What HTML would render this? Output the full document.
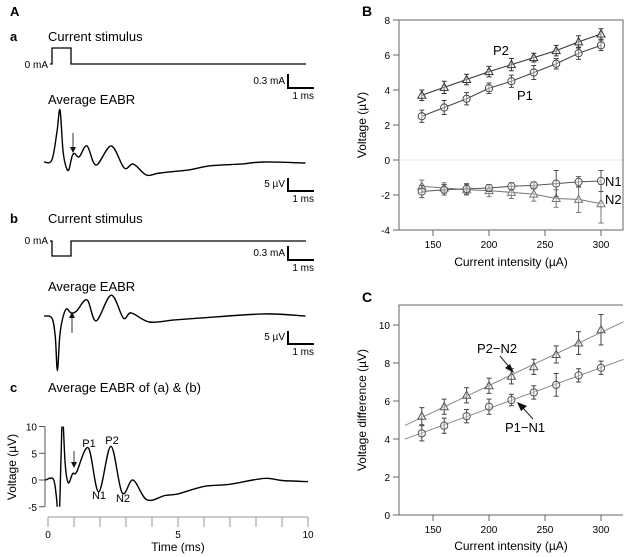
<!DOCTYPE html>
<html><head><meta charset="utf-8">
<style>
html,body{margin:0;padding:0;background:#fff;}
svg{display:block;font-family:"Liberation Sans",Arial,sans-serif;}
</style></head>
<body>
<svg id="fig" width="624" height="557" viewBox="0 0 624 557" xmlns="http://www.w3.org/2000/svg">
  <g id="static" fill="#000">
    <text x="10" y="16" font-size="13" font-weight="bold">A</text>
    <text x="10" y="41" font-size="13" font-weight="bold">a</text>
    <text x="48" y="41" font-size="13">Current stimulus</text>
    <text x="10" y="223" font-size="13" font-weight="bold">b</text>
    <text x="48" y="223" font-size="13">Current stimulus</text>
    <text x="48" y="104" font-size="13">Average EABR</text>
    <text x="48" y="291" font-size="13">Average EABR</text>
    <text x="10" y="392" font-size="13" font-weight="bold">c</text>
    <text x="48" y="392" font-size="13">Average EABR of (a) &amp; (b)</text>
    <text x="362" y="16" font-size="14" font-weight="bold">B</text>
    <text x="362" y="302" font-size="14" font-weight="bold">C</text>
  </g>
</svg>
<script>
var NS='http://www.w3.org/2000/svg';
var svg=document.getElementById('fig');
function mk(tag,attrs,parent){var e=document.createElementNS(NS,tag);for(var k in attrs)e.setAttribute(k,attrs[k]);(parent||svg).appendChild(e);return e;}
function txt(x,y,s,size,anchor){var t=mk('text',{x:x,y:y,'font-size':size,'text-anchor':anchor||'start',fill:'#000'});t.textContent=s;return t;}

// ---------- Data: Panel A traces (time ms, voltage µV) ----------
var traceATimes=[-0.15,0.15,0.35,0.46,0.58,0.7,0.8,0.92,1.02,1.2,1.5,1.85,2.43,2.93,3.28,3.78,4.2,4.67,5.44,6.2,7.4,8.3,9.9];
var traceAValues=[0,0.8,12,20,4,-2,-3,2,3.3,2,6.2,-1.2,6.2,-2.3,-0.8,-5,-4.4,-3.8,-3,-1.5,-0.8,0,-0.4];
var traceBTimes=[-0.15,0.15,0.28,0.36,0.45,0.55,0.7,0.89,1.1,1.5,1.85,2.43,2.9,3.2,3.9,4.86,5.83,8.3,9.9];
var traceBValues=[0,-0.8,-8,-21,-8,-1.5,2.7,1.2,1.9,6.2,-1.9,8,-0.8,1.2,-2.3,-1.5,-0.8,0.8,0];
var traceCTimes=[-0.1,0.2,0.32,0.42,0.5,0.56,0.66,0.78,0.95,1.1,1.55,1.95,2.42,2.85,3.27,3.8,4.5,5,6,7,8.3,9,10];
var traceCValues=[0,0.2,-3,-8,4,12,3,-0.5,1.2,1.5,6,-2.2,6.3,-2.4,0,-3.7,-2.9,-2.6,-1.2,-0.8,0.3,-0.1,-0.3];
var timeTicks=[0,5,10];
var voltTicksC=[10,5,0,-5];

// ---------- Data: Panel B ----------
var currents=[140,160,180,200,220,240,260,280,300];
var p1Vals=[2.5,3.0,3.5,4.1,4.5,5.0,5.5,6.1,6.55];
var p1Err=[0.35,0.4,0.35,0.3,0.35,0.4,0.3,0.35,0.3];
var p2Vals=[3.7,4.15,4.6,5.05,5.45,5.85,6.25,6.75,7.2];
var p2Err=[0.3,0.35,0.3,0.3,0.35,0.25,0.3,0.35,0.3];
var n1Vals=[-1.8,-1.7,-1.65,-1.6,-1.5,-1.45,-1.35,-1.25,-1.2];
var n1Err=[0.35,0.3,0.3,0.2,0.2,0.2,0.75,0.3,0.6];
var n2Vals=[-1.5,-1.6,-1.7,-1.75,-1.85,-1.95,-2.2,-2.25,-2.5];
var n2Err=[0.35,0.3,0.3,0.35,0.35,0.4,0.5,0.75,1.1];
var bYTicks=[8,6,4,2,0,-2,-4];
var xTicks=[150,200,250,300];

// ---------- Data: Panel C ----------
var d2Vals=[5.2,5.7,6.3,6.8,7.3,7.8,8.45,9.05,9.75];
var d2Err=[0.45,0.4,0.4,0.4,0.4,0.4,0.45,0.6,0.8];
var d1Vals=[4.3,4.7,5.2,5.7,6.05,6.45,6.85,7.35,7.75];
var d1Err=[0.4,0.4,0.35,0.4,0.3,0.35,0.6,0.35,0.35];
var cYTicks=[10,8,6,4,2,0];

// ---------- helpers ----------
function smoothPath(pts){
  var d='M'+pts[0][0].toFixed(1)+','+pts[0][1].toFixed(1);
  for(var i=0;i<pts.length-1;i++){
    var p0=pts[i>0?i-1:i],p1=pts[i],p2=pts[i+1],p3=pts[i+2<pts.length?i+2:i+1];
    var c1x=p1[0]+(p2[0]-p0[0])/6,c1y=p1[1]+(p2[1]-p0[1])/6;
    var c2x=p2[0]-(p3[0]-p1[0])/6,c2y=p2[1]-(p3[1]-p1[1])/6;
    d+=' C'+c1x.toFixed(1)+','+c1y.toFixed(1)+' '+c2x.toFixed(1)+','+c2y.toFixed(1)+' '+p2[0].toFixed(1)+','+p2[1].toFixed(1);
  }
  return d;
}
function xT(t){return 48+t*26;}
function scaleBar(x,yTop,yBot,label1,label2,name){
  var g=mk('g',{});
  
  
  mk('path',{d:'M'+x+','+yTop+' L'+x+','+yBot+' L'+(x+26)+','+yBot,fill:'none',stroke:'#000','stroke-width':2},g);
  var t1=txt(x-3,yBot-4,label1,10,'end');g.appendChild(t1);
  var t2=txt(x+26,yBot+11,label2,10,'end');g.appendChild(t2);
}

// ---------- Panel A: stimuli ----------
var s1=mk('path',{d:'M50,64 L52,64 L52,48 L71,48 L71,64 L306,64',fill:'none',stroke:'#000','stroke-width':1.3});


var z1=txt(48,68,'0 mA',10,'end');


scaleBar(288,74,88,'0.3 mA','1 ms','scale-bar-stimulus-a');
var s2=mk('path',{d:'M50,241 L52,241 L52,256 L71,256 L71,241 L306,241',fill:'none',stroke:'#000','stroke-width':1.3});


var z2=txt(48,244,'0 mA',10,'end');


scaleBar(288,246,260,'0.3 mA','1 ms','scale-bar-stimulus-b');

// ---------- Panel A: EABR traces ----------
function drawTrace(times,vals,base,pxPerUV){
  var pts=[];for(var i=0;i<times.length;i++)pts.push([xT(times[i]),base-vals[i]*pxPerUV]);
  var p=mk('path',{d:smoothPath(pts),fill:'none',stroke:'#000','stroke-width':1.4,'stroke-linejoin':'round'});
  return p;
}
var ta=drawTrace(traceATimes,traceAValues,162,2.6);


scaleBar(288,178,191,'5 \u00b5V','1 ms','scale-bar-eabr-a');
var tb=drawTrace(traceBTimes,traceBValues,316,2.6);


scaleBar(288,331,344,'5 \u00b5V','1 ms','scale-bar-eabr-b');
function arrow(x,y1,y2,name){
  var g=mk('g',{});
  
  
  var dir=y2>y1?1:-1;
  mk('line',{x1:x,y1:y1,x2:x,y2:y2-dir*5,stroke:'#333','stroke-width':1},g);
  mk('path',{d:'M'+(x-3)+','+(y2-dir*6)+' L'+(x+3)+','+(y2-dir*6)+' L'+x+','+y2+' Z',fill:'#111'},g);
}
arrow(73,133,153,'arrow-a');
arrow(72,333,312,'arrow-b');

// ---------- Panel A c: axes ----------
var cY0=480,cPx=5.35;
function cy(v){return cY0-v*cPx;}
var clip=mk('clipPath',{id:'cclip'});
mk('rect',{x:40,y:cy(10),width:280,height:cy(-5)-cy(10)},clip);
var tc=drawTrace(traceCTimes,traceCValues,cY0,cPx);
tc.setAttribute('clip-path','url(#cclip)');


var yax=mk('line',{x1:45,y1:cy(10),x2:45,y2:cy(-5),stroke:'#555','stroke-width':1});


voltTicksC.forEach(function(v){
  var l=mk('line',{x1:39,y1:cy(v),x2:45,y2:cy(v),stroke:'#555','stroke-width':1});
  
  
  var t=txt(37,cy(v)+4,String(v),10,'end');
  
  
});
var xax=mk('line',{x1:48,y1:517,x2:308,y2:517,stroke:'#999','stroke-width':1});


for(var m=0;m<=10;m++){
  var l=mk('line',{x1:xT(m),y1:517,x2:xT(m),y2:527,stroke:'#999','stroke-width':1});
  
  
}
timeTicks.forEach(function(t){
  var e=txt(xT(t),538,String(t),10,'middle');
  
  
});
var xl=txt(178,551,'Time (ms)',12,'middle');


var yl=txt(0,0,'Voltage (\u00b5V)',12,'middle');
yl.setAttribute('transform','translate(16,467) rotate(-90)');


arrow(74,451,468,'arrow-c');
var pl=[['P1',89,447],['P2',112,444],['N1',99,499],['N2',123,502]];
pl.forEach(function(a){
  var t=txt(a[1],a[2],a[0],11,'middle');
  
  
});

// ---------- Panel B ----------
function bx(c){return 433+(c-150)*1.12;}
var bY0=160,bPx=17.5;
function by(v){return bY0-v*bPx;}
var bframe=mk('path',{d:'M399,'+by(8)+' L623,'+by(8)+' L623,'+by(-4)+' L399,'+by(-4)+' Z',fill:'none',stroke:'#666','stroke-width':1});


var zl=mk('line',{x1:399,y1:by(0),x2:623,y2:by(0),stroke:'#ccc','stroke-width':1,'stroke-dasharray':'1,1'});


bYTicks.forEach(function(v){
  var l=mk('line',{x1:393,y1:by(v),x2:399,y2:by(v),stroke:'#666','stroke-width':1});
  
  
  var t=txt(390,by(v)+4,String(v),10,'end');
  
  
});
xTicks.forEach(function(c){
  var l=mk('line',{x1:bx(c),y1:by(-4),x2:bx(c),y2:by(-4)+6,stroke:'#666','stroke-width':1});
  
  
  var t=txt(bx(c),by(-4)+18,String(c),10,'middle');
  
  
});
var bxl=txt(511,266,'Current intensity (\u00b5A)',12,'middle');


var byl=txt(0,0,'Voltage (\u00b5V)',12,'middle');
byl.setAttribute('transform','translate(366,125) rotate(-90)');



function marker(g,x,y,shape,col){
  if(shape==='circle')mk('circle',{cx:x,cy:y,r:3.6,fill:'#fff','fill-opacity':0.4,stroke:col,'stroke-width':1},g);
  else mk('path',{d:'M'+x+','+(y-4.2)+' L'+(x+4)+','+(y+3)+' L'+(x-4)+','+(y+3)+' Z',fill:'#fff','fill-opacity':0.4,stroke:col,'stroke-width':1},g);
}
function errBar(g,x,y1,y2,col){
  mk('line',{x1:x,y1:y1,x2:x,y2:y2,stroke:col,'stroke-width':1},g);
  mk('line',{x1:x-2.5,y1:y1,x2:x+2.5,y2:y1,stroke:col,'stroke-width':1},g);
  mk('line',{x1:x-2.5,y1:y2,x2:x+2.5,y2:y2,stroke:col,'stroke-width':1},g);
}
function seriesB(vals,errs,shape,col){
  var g=mk('g',{});
  var d='';
  for(var i=0;i<currents.length;i++)d+=(i?' L':'M')+bx(currents[i])+','+by(vals[i]);
  mk('path',{d:d,fill:'none',stroke:col,'stroke-width':1},g);
  for(var i=0;i<currents.length;i++){
    errBar(g,bx(currents[i]),by(vals[i]+errs[i]),by(vals[i]-errs[i]),col);
    marker(g,bx(currents[i]),by(vals[i]),shape,col);
  }
  return g;
}
var gn2=seriesB(n2Vals,n2Err,'triangle','#777');


var gn1=seriesB(n1Vals,n1Err,'circle','#555');


var gp1=seriesB(p1Vals,p1Err,'circle','#444');


var gp2=seriesB(p2Vals,p2Err,'triangle','#333');


var lp2=txt(493,55,'P2',13,'start');


var lp1=txt(517,100,'P1',13,'start');


var ln1=txt(605,186,'N1',13,'start');


var ln2=txt(605,204,'N2',13,'start');



// ---------- Panel C ----------
var cY0b=515,cPxb=19;
function cyb(v){return cY0b-v*cPxb;}
var cfr=mk('path',{d:'M623,305 L399,305 L399,'+cY0b+' L623,'+cY0b,fill:'none',stroke:'#666','stroke-width':1});


cYTicks.forEach(function(v){
  var l=mk('line',{x1:393,y1:cyb(v),x2:399,y2:cyb(v),stroke:'#666','stroke-width':1});
  
  
  var t=txt(390,cyb(v)+4,String(v),10,'end');
  
  
});
xTicks.forEach(function(c){
  var l=mk('line',{x1:bx(c),y1:cY0b,x2:bx(c),y2:cY0b+6,stroke:'#666','stroke-width':1});
  
  
  var t=txt(bx(c),cY0b+18,String(c),10,'middle');
  
  
});
var cxl=txt(511,550,'Current intensity (\u00b5A)',12,'middle');


var cyl=txt(0,0,'Voltage difference (\u00b5V)',12,'middle');
cyl.setAttribute('transform','translate(366,410) rotate(-90)');


function fit(vals){
  var n=currents.length,sx=0,sy=0,sxx=0,sxy=0;
  for(var i=0;i<n;i++){sx+=currents[i];sy+=vals[i];sxx+=currents[i]*currents[i];sxy+=currents[i]*vals[i];}
  var b=(n*sxy-sx*sy)/(n*sxx-sx*sx);return [b,(sy-b*sx)/n];
}
function seriesC(vals,errs,shape){
  var g=mk('g',{});
  var f=fit(vals);
  mk('line',{x1:bx(125),y1:cyb(f[1]+f[0]*125),x2:bx(320),y2:cyb(f[1]+f[0]*320),stroke:'#888','stroke-width':1},g);
  for(var i=0;i<currents.length;i++){
    errBar(g,bx(currents[i]),cyb(vals[i]+errs[i]),cyb(vals[i]-errs[i]),'#444');
    marker(g,bx(currents[i]),cyb(vals[i]),shape,'#555');
  }
  return g;
}
var gd2=seriesC(d2Vals,d2Err,'triangle');


var gd1=seriesC(d1Vals,d1Err,'circle');


var ld2=txt(477,353,'P2\u2212N2',13,'start');


var ld1=txt(505,432,'P1\u2212N1',13,'start');


var a1=mk('g',{});


mk('line',{x1:500,y1:356,x2:510,y2:368,stroke:'#222','stroke-width':1},a1);
mk('path',{d:'M514,373 L505,368 L510,364 Z',fill:'#111'},a1);
var a2=mk('g',{});


mk('line',{x1:533,y1:419,x2:522,y2:407,stroke:'#222','stroke-width':1},a2);
mk('path',{d:'M517,402 L527,406 L521,411 Z',fill:'#111'},a2);
</script>
</body></html>
